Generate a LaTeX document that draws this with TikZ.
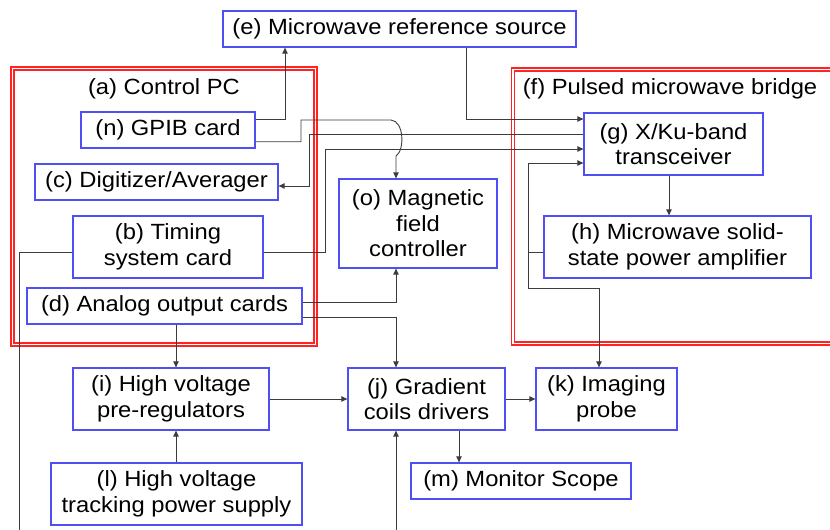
\documentclass[tikz,border=0pt]{standalone}
\usepackage{fontspec}
\setmainfont{Liberation Sans}[FakeStretch=1.08]
\usetikzlibrary{arrows.meta,calc}
\definecolor{boxblue}{HTML}{4F4FF5}
\definecolor{frameRed}{HTML}{FF2424}
\definecolor{wireGray}{HTML}{3C3C3C}

\begin{document}
\begin{tikzpicture}[x=1pt,y=-1pt,
  blk/.style={draw=boxblue,line width=1.3pt,align=center,inner sep=0pt,
    font=\fontsize{22}{25.5}\selectfont},
  ttl/.style={font=\fontsize{22}{25.5}\selectfont},
  frame/.style={draw=frameRed,double=white,line width=1.4pt,double distance=1.5pt},
  wire/.style={draw=wireGray,line width=0.9pt},
  arr/.style={wire,-{Triangle[length=6pt,width=5.5pt]}}]
  \clip (0,0) rectangle (830,530);

  \draw[frame] (12.5,68.5) rectangle (315.5,344.5);
  \draw[frame] (513,69.5) rectangle (845,343.5);
  \node[ttl] (ttlA) at (164,89) {(a) Control PC};
  \node[ttl] (ttlF) at (670,89) {(f) Pulsed microwave bridge};

  \node[blk,minimum width=353,minimum height=36] (e) at (399.5,29) {(e) Microwave reference source};
  \node[blk,minimum width=174,minimum height=36] (n) at (168,130) {(n) GPIB card};
  \node[blk,minimum width=243,minimum height=36] (c) at (156.5,182) {(c) Digitizer/Averager};
  \node[blk,minimum width=190,minimum height=62] (b) at (168,247) {(b) Timing\\system card};
  \node[blk,minimum width=275,minimum height=36] (d) at (164.5,306) {(d) Analog output cards};
  \node[blk,minimum width=158,minimum height=89] (o) at (418,223.5) {(o) Magnetic\\field\\controller};
  \node[blk,minimum width=179,minimum height=62] (g) at (673.5,144) {(g) X/Ku-band\\transceiver};
  \node[blk,minimum width=267,minimum height=62] (h) at (677.5,247) {(h) Microwave solid-\\state power amplifier};
  \node[blk,minimum width=196,minimum height=62] (i) at (171,399) {(i) High voltage\\pre-regulators};
  \node[blk,minimum width=251,minimum height=62] (l) at (176.5,494) {(l) High voltage\\tracking power supply};
  \node[blk,minimum width=157,minimum height=62] (j) at (426.5,399) {(j) Gradient\\coils drivers};
  \node[blk,minimum width=141,minimum height=62] (k) at (606.5,399) {(k) Imaging\\probe};
  \node[blk,minimum width=220,minimum height=36] (m) at (521,481) {(m) Monitor Scope};

  \coordinate (colA) at (176,0);
  \coordinate (colB) at (396,0);
  \coordinate (colE) at (285,0);
  \coordinate (colG) at (669,0);
  \coordinate (colK) at (599,0);
  \coordinate (colM) at (459,0);
  \coordinate (hjoin) at (528,252);
  \coordinate (inJ) at (396,540);
  \coordinate (outB) at (19,540);

  \draw[arr] ([yshift=11pt]n.east) -| (e.south -| colE);
  \draw[arr] ([yshift=-11.7pt]n.east) -| (301,120) -- (391,120)
    .. controls (404,121) and (405,150) .. (396,156) -- (o.north -| colB);
  \draw[arr] ([xshift=66.5pt]e.south) |- ([yshift=25pt]g.west);
  \draw[arr] ([yshift=10pt]g.west) -| (309,186) -- ([yshift=-4pt]c.east);
  \draw[arr] ([yshift=-5pt]b.east) -| (325,149) -- ([yshift=-5pt]g.west);
  \draw[wire] ([yshift=-5pt]h.west) -- (hjoin);
  \draw[arr] (hjoin) |- ([yshift=-19pt]g.west);
  \draw[arr] (hjoin) |- (599,288) -- (k.north -| colK);
  \draw[arr] (g.south -| colG) -- (h.north -| colG);
  \draw[arr] ([yshift=3.5pt]d.east) -| (o.south -| colB);
  \draw[arr] ([yshift=-11pt]d.east) -| (j.north -| colB);
  \draw[arr] (d.south -| colA) -- (i.north -| colA);
  \draw[arr] (l.north -| colA) -- (i.south -| colA);
  \draw[arr] (i.east) -- (j.west);
  \draw[arr] (j.east) -- (k.west);
  \draw[arr] (j.south -| colM) -- (m.north -| colM);
  \draw[arr] (inJ) -- (j.south -| inJ);
  \draw[wire] ([yshift=-5pt]b.west) -| (outB);
\end{tikzpicture}
\end{document}
